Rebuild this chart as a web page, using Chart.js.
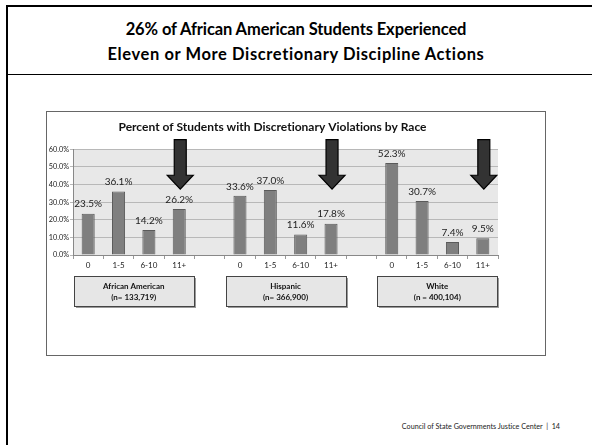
<!DOCTYPE html>
<html>
<head>
<meta charset="utf-8">
<title>Discretionary Discipline Actions by Race</title>
<script src="https://cdn.jsdelivr.net/npm/chart.js"></script>
<style>
  body { margin: 0; background: #fff; font-family: Lato, Calibri, sans-serif; font-variant-ligatures: none; }
  .slide { position: relative; width: 592px; height: 445px; overflow: hidden; background: #fff; }
  .frame-top { position: absolute; left: 6px; top: 5px; width: 586px; height: 2px; background: #000; }
  .frame-left { position: absolute; left: 6px; top: 5px; width: 2px; height: 440px; background: #000; }
  .divider { position: absolute; left: 6px; top: 74px; width: 586px; height: 1px; background: #000; }
  h1 { position: absolute; left: 0; right: 0; top: 17px; margin: 0; text-align: center;
       font-size: 16.5px; line-height: 25px; font-weight: bold; color: #000; }
  h1 .l1 { letter-spacing: -0.1px; }
  h1 .l2 { letter-spacing: 0.6px; }
  .chart-box { position: absolute; left: 46px; top: 111px; width: 500px; height: 245px;
               border: 1px solid #666; box-sizing: border-box; }
  .footer { position: absolute; right: 32px; top: 422px; font-size: 7.2px; color: #222; white-space: nowrap; }
</style>
</head>
<body>
<div class="slide">
  <div class="frame-top"></div>
  <div class="frame-left"></div>
  <h1><span class="l1">26% of African American Students Experienced</span><br><span class="l2">Eleven or More Discretionary Discipline Actions</span></h1>
  <div class="divider"></div>
  <div class="chart-box"><canvas id="chart" width="498" height="243"></canvas></div>
  <div class="footer">Council of State Governments Justice Center &nbsp;|&nbsp; 14</div>
</div>

<script>
// bar categories, blank slots keep a gap between the three groups
const categories = ['0', '1-5', '6-10', '11+', '', '0', '1-5', '6-10', '11+', '', '0', '1-5', '6-10', '11+'];
const percents = [23.5, 36.1, 14.2, 26.2, null, 33.6, 37.0, 11.6, 17.8, null, 52.3, 30.7, 7.4, 9.5];

const groupNames = ['African American', 'Hispanic', 'White'];
const groupCounts = ['(n= 133,719)', '(n= 366,900)', '(n = 400,104)'];
const groupFirst = [0, 5, 10];
const groupLast = [3, 8, 13];

const yMax = 60;
const yStep = 10;

// arrow shape in axis units (percent)
const ARROW_TOP = 65.6, ARROW_NECK = 45.3, ARROW_TIP = 37.4;

const FONT = 'Lato, Calibri, sans-serif';

const plotBackground = {
  id: 'plotBackground',
  beforeDraw(chart) {
    const { ctx, chartArea: a } = chart;
    ctx.save();
    ctx.fillStyle = '#e8e8e8';
    ctx.fillRect(a.left, a.top, a.right - a.left, a.bottom - a.top);
    ctx.restore();
  }
};

const valueLabels = {
  id: 'valueLabels',
  afterDatasetsDraw(chart) {
    const ctx = chart.ctx;
    const meta = chart.getDatasetMeta(0);
    ctx.save();
    ctx.font = '10px ' + FONT;
    ctx.fillStyle = '#222';
    ctx.textAlign = 'center';
    ctx.textBaseline = 'middle';
    meta.data.forEach((bar, i) => {
      if (percents[i] == null) return;
      ctx.fillText(percents[i].toFixed(1) + '%', bar.x, bar.y - 9.5);
    });
    ctx.restore();
  }
};

const arrows = {
  id: 'arrows',
  afterDraw(chart) {
    const { ctx, scales: { x, y } } = chart;
    ctx.save();
    groupLast.forEach(idx => {
      const cx = x.getPixelForValue(idx) + 1;
      const top = y.getPixelForValue(ARROW_TOP);
      const neck = y.getPixelForValue(ARROW_NECK);
      const tip = y.getPixelForValue(ARROW_TIP);
      ctx.beginPath();
      ctx.moveTo(cx - 6, top);
      ctx.lineTo(cx + 6, top);
      ctx.lineTo(cx + 6, neck);
      ctx.lineTo(cx + 13, neck);
      ctx.lineTo(cx, tip);
      ctx.lineTo(cx - 13, neck);
      ctx.lineTo(cx - 6, neck);
      ctx.closePath();
      ctx.fillStyle = '#333';
      ctx.fill();
      ctx.lineWidth = 1.2;
      ctx.strokeStyle = '#000';
      ctx.stroke();
    });
    ctx.restore();
  }
};

const groupBoxes = {
  id: 'groupBoxes',
  afterDraw(chart) {
    const { ctx, chartArea, scales: { x } } = chart;
    ctx.save();
    groupNames.forEach((name, g) => {
      const cx = (x.getPixelForValue(groupFirst[g]) + x.getPixelForValue(groupLast[g])) / 2;
      const w = 120, h = 30;
      const left = Math.round(cx - w / 2) + 0.5;
      const top = Math.round(chartArea.bottom + 21) + 0.5;
      ctx.fillStyle = '#9a9a9a';
      ctx.fillRect(left + 1.5, top + 1.5, w, h);
      ctx.fillStyle = '#e6e6e6';
      ctx.fillRect(left, top, w, h);
      ctx.strokeStyle = '#444';
      ctx.lineWidth = 1;
      ctx.strokeRect(left, top, w, h);
      ctx.fillStyle = '#111';
      ctx.font = 'bold 8px ' + FONT;
      ctx.textAlign = 'center';
      ctx.textBaseline = 'middle';
      ctx.fillText(name, cx, top + 10);
      ctx.fillText(groupCounts[g], cx, top + 21);
    });
    ctx.restore();
  }
};

new Chart(document.getElementById('chart'), {
  type: 'bar',
  data: {
    labels: categories,
    datasets: [{
      data: percents,
      backgroundColor: '#7f7f7f',
      borderColor: '#5a5a5a',
      borderWidth: 1,
      barPercentage: 0.43,
      categoryPercentage: 1
    }]
  },
  options: {
    responsive: false,
    animation: false,
    devicePixelRatio: 1,
    layout: { padding: { left: 0, right: 47, top: 0, bottom: 0 } },
    plugins: {
      legend: { display: false },
      tooltip: { enabled: false },
      title: {
        display: true,
        text: 'Percent of Students with Discretionary Violations by Race',
        color: '#111',
        font: { family: FONT, size: 12, weight: 'bold' },
        padding: { top: 8, bottom: 15 }
      }
    },
    scales: {
      x: {
        grid: { offset: true, drawOnChartArea: false, tickLength: 4, color: '#999' },
        border: { color: '#888' },
        ticks: { color: '#222', font: { family: FONT, size: 8 }, padding: 2, maxRotation: 0, autoSkip: false },
        afterFit(scale) { scale.height = 100; }
      },
      y: {
        min: 0,
        max: yMax,
        grid: { color: '#b8b8b8', tickLength: 3 },
        border: { color: '#888' },
        ticks: {
          stepSize: yStep,
          color: '#222',
          padding: 1,
          font: { family: FONT, size: 7.3 },
          callback: v => v.toFixed(1) + '%'
        },
        afterFit(scale) { scale.width = 26; }
      }
    }
  },
  plugins: [plotBackground, valueLabels, arrows, groupBoxes]
});
</script>
</body>
</html>
